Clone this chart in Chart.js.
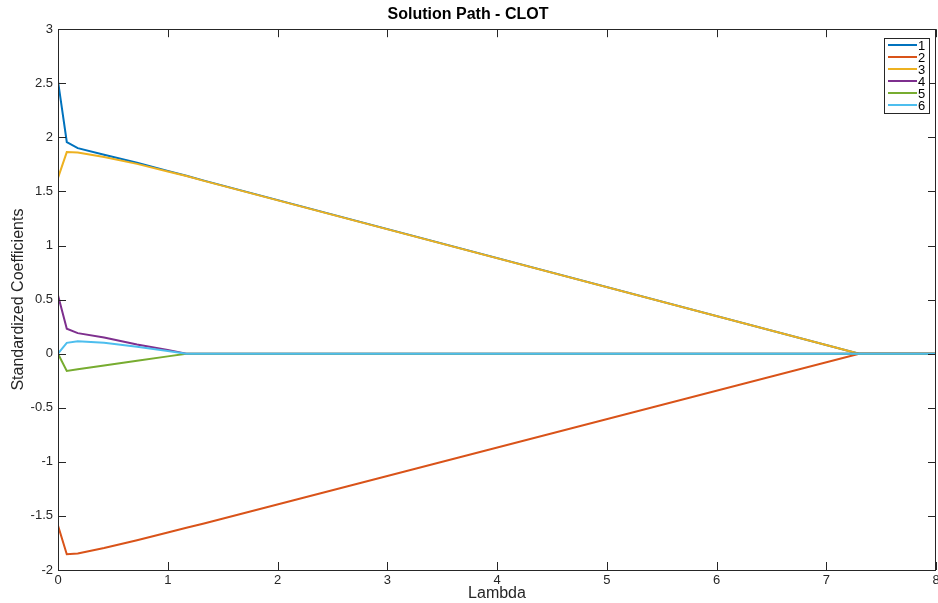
<!DOCTYPE html>
<html>
<head>
<meta charset="utf-8">
<script src="https://cdn.jsdelivr.net/npm/chart.js@4.4.1/dist/chart.umd.min.js"></script>
<style>
  html, body { margin: 0; padding: 0; background: #fff; }
  #wrap { width: 938px; height: 603px; }
</style>
</head>
<body>
<div id="wrap"><canvas id="chart" width="938" height="603"></canvas></div>
<script>
// lambda grid
const lambdas = [0, 0.08, 0.18, 0.42, 0.72, 1.0, 1.17, 1.33, 7.3, 8];

const coef1 = [2.52, 1.957, 1.90, 1.84, 1.765, 1.69, 1.645, 1.60, 0, 0];
const coef2 = [-1.59, -1.855, -1.848, -1.797, -1.725, -1.654, -1.61, -1.57, 0, 0];
const coef3 = [1.625, 1.864, 1.86, 1.818, 1.755, 1.685, 1.642, 1.598, 0, 0];
const coef4 = [0.54, 0.23, 0.19, 0.15, 0.085, 0.035, 0, 0, 0, 0];
const coef5 = [0, -0.16, -0.145, -0.11, -0.066, -0.025, 0, 0, 0, 0];
const coef6 = [0, 0.10, 0.115, 0.10, 0.065, 0.025, 0, 0, 0, 0];

const seriesNames = ['1', '2', '3', '4', '5', '6'];
const seriesColors = ['#0072BD', '#D95319', '#EDB120', '#7E2F8E', '#77AC30', '#4DBEEE'];
const allCoefs = [coef1, coef2, coef3, coef4, coef5, coef6];

const xTicks = [0, 1, 2, 3, 4, 5, 6, 7, 8];
const yTicks = [-2, -1.5, -1, -0.5, 0, 0.5, 1, 1.5, 2, 2.5, 3];

const AXIS_COLOR = '#262626';
const FONT = 'Liberation Sans, Arial, Helvetica, sans-serif';

// matlab-style box with inward ticks + legend in the top-right corner
const boxPlugin = {
  id: 'matlabBox',
  afterDatasetsDraw(chart) {
    const { ctx, chartArea: a, scales } = chart;
    const tl = 8;
    ctx.save();
    ctx.strokeStyle = AXIS_COLOR;
    ctx.lineWidth = 1;
    ctx.strokeRect(Math.round(a.left) + 0.5, Math.round(a.top) + 0.5,
      Math.round(a.right - a.left) - 1, Math.round(a.bottom - a.top));
    ctx.beginPath();
    xTicks.forEach(v => {
      const px = Math.round(scales.x.getPixelForValue(v)) + 0.5;
      ctx.moveTo(px, a.bottom); ctx.lineTo(px, a.bottom - tl);
      ctx.moveTo(px, a.top); ctx.lineTo(px, a.top + tl);
    });
    yTicks.forEach(v => {
      const py = Math.round(scales.y.getPixelForValue(v)) + 0.5;
      ctx.moveTo(a.left, py); ctx.lineTo(a.left + tl, py);
      ctx.moveTo(a.right, py); ctx.lineTo(a.right - tl, py);
    });
    ctx.stroke();

    // legend
    const bx = 884, by = 38, bw = 45, bh = 75;
    ctx.fillStyle = '#fff';
    ctx.fillRect(bx, by, bw, bh);
    ctx.strokeStyle = AXIS_COLOR;
    ctx.strokeRect(bx + 0.5, by + 0.5, bw, bh);
    ctx.font = '13px ' + FONT;
    ctx.textBaseline = 'middle';
    ctx.textAlign = 'left';
    chart.data.datasets.forEach((ds, i) => {
      const y = by + 7 + i * 12;
      ctx.strokeStyle = ds.borderColor;
      ctx.lineWidth = 2;
      ctx.beginPath();
      ctx.moveTo(bx + 4, y); ctx.lineTo(bx + 33, y);
      ctx.stroke();
      ctx.fillStyle = '#000';
      ctx.fillText(ds.label, bx + 34, y + 1);
    });
    ctx.restore();
  }
};

const datasets = allCoefs.map((vals, i) => ({
  label: seriesNames[i],
  data: lambdas.map((l, j) => ({ x: l, y: vals[j] })),
  borderColor: seriesColors[i],
  backgroundColor: seriesColors[i],
  borderWidth: 2,
  pointRadius: 0,
  showLine: true,
  tension: 0,
  fill: false,
  order: allCoefs.length - i
}));

new Chart(document.getElementById('chart'), {
  type: 'scatter',
  data: { datasets },
  options: {
    responsive: false,
    animation: false,
    events: [],
    layout: { padding: { left: 0, right: 2, top: 0, bottom: 0 } },
    plugins: {
      legend: { display: false },
      tooltip: { enabled: false },
      title: {
        display: true,
        text: 'Solution Path - CLOT',
        color: '#000',
        font: { family: FONT, size: 16, weight: 'bold' },
        padding: { top: 5, bottom: 5 }
      }
    },
    scales: {
      x: {
        type: 'linear',
        min: 0, max: 8,
        grid: { display: false, drawTicks: false },
        border: { display: false },
        ticks: {
          stepSize: 1,
          padding: 3,
          color: AXIS_COLOR,
          font: { family: FONT, size: 13 },
          maxRotation: 0
        },
        title: {
          display: true,
          text: 'Lambda',
          color: AXIS_COLOR,
          font: { family: FONT, size: 16 },
          padding: { top: 0, bottom: 0 }
        },
        afterFit(scale) {
          scale.height = 33;
          scale.paddingLeft = 0;
          scale.paddingRight = 0;
        }
      },
      y: {
        type: 'linear',
        min: -2, max: 3,
        grid: { display: false, drawTicks: false },
        border: { display: false },
        ticks: {
          stepSize: 0.5,
          padding: 5,
          color: AXIS_COLOR,
          font: { family: FONT, size: 13 },
          callback: v => String(Number(v.toFixed(1)))
        },
        title: {
          display: true,
          text: 'Standardized Coefficients',
          color: AXIS_COLOR,
          font: { family: FONT, size: 16 },
          padding: { top: 9, bottom: 0 }
        },
        afterFit(scale) {
          scale.width = 58;
          scale.paddingTop = 0;
          scale.paddingBottom = 0;
        }
      }
    }
  },
  plugins: [boxPlugin]
});
</script>
</body>
</html>
